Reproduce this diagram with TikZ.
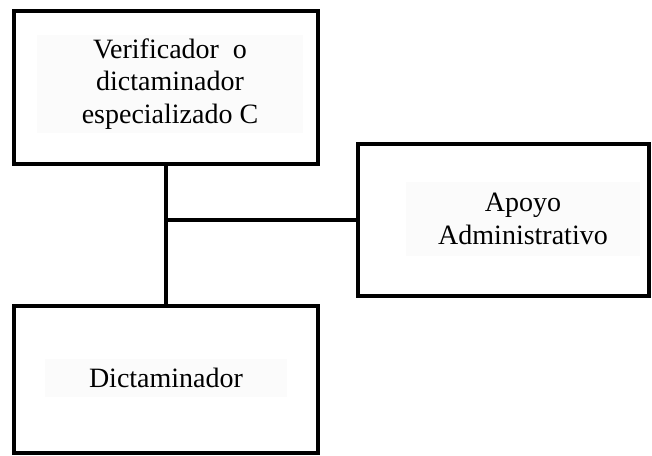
\documentclass[tikz,border=0pt]{standalone}
\usepackage{fontspec}
\setmainfont{Liberation Serif}
\usetikzlibrary{positioning}

\begin{document}
\begin{tikzpicture}[
    x=0.75pt, y=-0.75pt,
    unit/.style={rectangle, draw, line width=3pt, inner sep=0pt},
    tag/.style={rectangle, fill=black!1.5, align=center, inner sep=0pt,
        font=\fontsize{21}{24.5}\selectfont},
    link/.style={line width=3pt}
]
    \useasboundingbox (0,0) rectangle (652,456);
    % boxes
    \node[unit, minimum width=228pt, minimum height=114pt] (verif) at (166,87.5) {};
    \node[unit, minimum width=218pt, minimum height=114pt] (apoyo) at (503.5,220) {};
    \node[unit, minimum width=228pt, minimum height=110pt] (dictam) at (166,379.5) {};
    % texts
    \node[tag, minimum width=199pt, minimum height=73.5pt] (verifT) at (170,84)
        {Verificador\ \ o\\dictaminador\\especializado C};
    \node[tag, minimum width=175pt, minimum height=56pt] (apoyoT) at (523,219)
        {Apoyo\\Administrativo};
    \node[tag, minimum width=181pt, minimum height=29pt] (dictamT) at (166,378)
        {Dictaminador};
    % connectors
    \coordinate (junc) at (166,220);
    \draw[link] (verif.south) -- (dictam.north);
    \draw[link] (junc) -- (apoyo.west);
\end{tikzpicture}
\end{document}
